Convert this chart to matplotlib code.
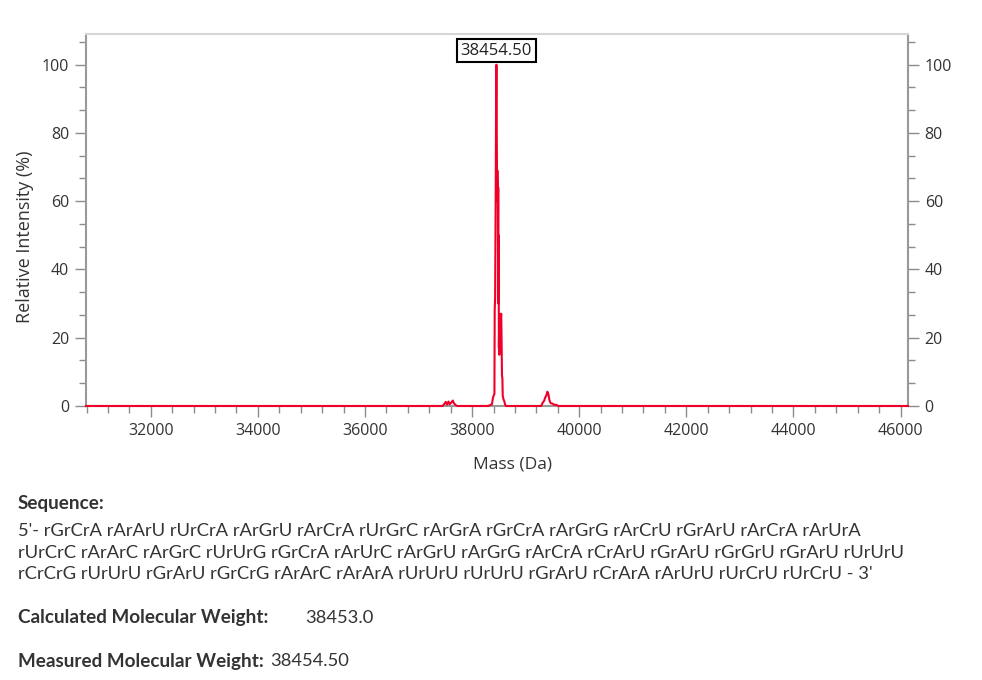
## Deconvoluted mass spectrum with sequence info below

import numpy as np
import matplotlib.pyplot as plt
from matplotlib.ticker import MultipleLocator

plt.rcParams['font.family'] = ['Open Sans', 'DejaVu Sans']

# spectrum (mass in Da, relative intensity in %)
mass = [30790, 37450, 37490, 37510, 37530, 37560, 37580, 37610, 37640, 37660, 37690, 37720,
        38300, 38370, 38385, 38400, 38417, 38422, 38430, 38440, 38448, 38454, 38460, 38464,
        38468, 38472, 38476, 38480, 38484, 38488, 38492, 38496, 38500, 38504, 38508, 38514,
        38520, 38528, 38536, 38544, 38550, 38558, 38566, 38572, 38585, 38600, 38615, 38630,
        39290, 39320, 39345, 39365, 39385, 39405, 39425, 39440, 39455, 39470, 39500, 39530,
        39580, 39610, 46140]
intensity = [0, 0, 0.8, 1.2, 0.4, 1.3, 0.5, 1.0, 1.6, 0.8, 0.3, 0,
             0, 0.5, 2, 3, 3.5, 28, 32, 60, 88, 100, 82, 70,
             66, 69, 60, 66, 45, 64, 30, 50, 17, 22, 15, 18,
             25, 27, 26, 27, 20, 9, 8, 3, 2, 1.5, 0.5, 0,
             0, 1, 1.5, 2.5, 3, 4.2, 3.5, 2, 1.2, 0.8, 0.7, 0.4,
             0.3, 0, 0]

peak_label = '38454.50'
peak_mass = 38454

sequence_lines = [
    "5'- rGrCrA rArArU rUrCrA rArGrU rArCrA rUrGrC rArGrA rGrCrA rArGrG rArCrU rGrArU rArCrA rArUrA",
    "rUrCrC rArArC rArGrC rUrUrG rGrCrA rArUrC rArGrU rArGrG rArCrA rCrArU rGrArU rGrGrU rGrArU rUrUrU",
    "rCrCrG rUrUrU rGrArU rGrCrG rArArC rArArA rUrUrU rUrUrU rGrArU rCrArA rArUrU rUrCrU rUrCrU - 3'",
]
calc_mw = '38453.0'
meas_mw = '38454.50'

W, H = 982, 680
fig = plt.figure(figsize=(W / 100, H / 100), dpi=100)
ax = fig.add_axes([86 / W, 1 - 406 / H, (908 - 86) / W, (406 - 34) / H])

ax.plot(mass, intensity, color='#f00028', lw=1.5, clip_on=False, zorder=3)

ax.set_xlim(30790, 46140)
ax.set_ylim(0, 109)
ax.xaxis.set_major_locator(MultipleLocator(2000))
ax.xaxis.set_minor_locator(MultipleLocator(400))
ax.yaxis.set_major_locator(MultipleLocator(20))
ax.yaxis.set_minor_locator(MultipleLocator(20 / 3))

ax.tick_params(which='both', direction='out', color='#8c8c8c', width=1,
               labelcolor='#333333', labelsize=11.5, right=True, labelright=True, top=False)
ax.tick_params(which='major', length=8, pad=4)
ax.tick_params(which='minor', length=5)

for side in ['left', 'right', 'bottom']:
    ax.spines[side].set_color('#999999')
    ax.spines[side].set_linewidth(1.5)
ax.spines['top'].set_color('#d6d6d6')
ax.spines['top'].set_linewidth(1.5)

ax.set_xlabel('Mass (Da)', fontsize=12.5, color='#333333', va='center')
ax.set_ylabel('Relative Intensity (%)', fontsize=13, color='#333333', va='center')
ax.xaxis.set_label_coords(0.519, -0.156)
ax.yaxis.set_label_coords(-0.074, 0.456)

ax.annotate(peak_label, xy=(peak_mass, 100), xytext=(0, 10), textcoords='offset points',
            ha='center', va='center', fontsize=12, color='#222222', zorder=5,
            bbox=dict(boxstyle='square,pad=0.22', fc='white', ec='black', lw=1.5))

# text block under the chart
txt = dict(family=['Lato', 'DejaVu Sans'], color='#333333', va='center')
fig.text(18 / W, 1 - 503 / H, 'Sequence:', fontweight='bold', fontsize=13.6, **txt)
for i, line in enumerate(sequence_lines):
    fig.text(18 / W, 1 - (531 + 21.5 * i) / H, line, fontsize=13.2, **txt)
fig.text(18 / W, 1 - 618 / H, 'Calculated Molecular Weight:', fontweight='bold', fontsize=13.6, **txt)
fig.text(305 / W, 1 - 618 / H, calc_mw, fontsize=13.2, **txt)
fig.text(18 / W, 1 - 661 / H, 'Measured Molecular Weight:', fontweight='bold', fontsize=13.6, **txt)
fig.text(270 / W, 1 - 661 / H, meas_mw, fontsize=13.2, **txt)

fig.savefig('out.png', dpi=100)
